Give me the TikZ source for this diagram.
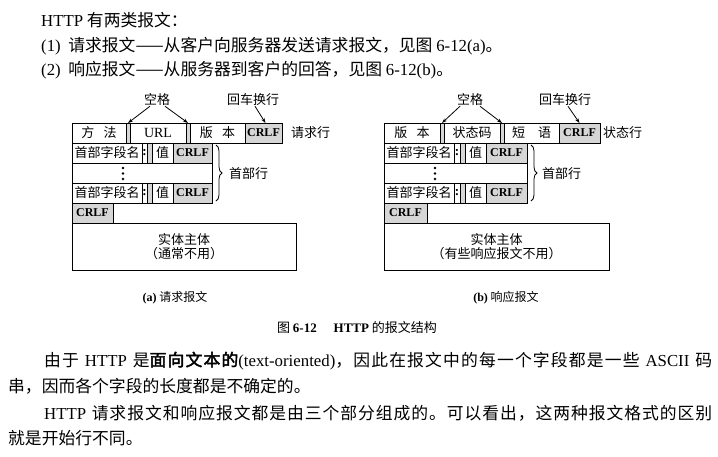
\documentclass[tikz,border=0pt]{standalone}
\usepackage{fontspec}
\setmainfont{Liberation Serif}
\newfontfamily\cjk{Noto Sans CJK SC}
\newfontfamily\cjkb{Noto Sans CJK SC}[FakeBold=2.5]
% glue between Chinese characters, so that full lines can be justified
\newXeTeXintercharclass\hanzicls
\newcount\hanzic
\hanzic="4E00
\loop
  \XeTeXcharclass\hanzic=\hanzicls
  \ifnum\hanzic<"9FFF \advance\hanzic by 1 \repeat
\XeTeXcharclass"FF0C=\hanzicls
\XeTeXcharclass"3002=\hanzicls
\XeTeXcharclass"FF1A=\hanzicls
\XeTeXinterchartoks\hanzicls\hanzicls={\hskip0pt plus 1pt minus 0.3pt\relax}
\XeTeXinterchartokenstate=1
\usetikzlibrary{arrows.meta,decorations.pathreplacing}
\newcommand\en[1]{{\rmfamily #1}}
\newcommand\crlf{{\rmfamily\bfseries\fontsize{12}{12}\selectfont CRLF}}

\begin{document}
\begin{tikzpicture}[x=1pt,y=-1pt,
  cell/.style={draw,line width=0.8pt,anchor=north west,inner sep=0pt,outer sep=0pt,
    minimum height=20pt,font=\cjk\fontsize{13}{13}\selectfont},
  gcell/.style={cell,fill=black!16},
  lbl/.style={inner sep=0pt,font=\cjk\fontsize{13}{15}\selectfont},
  arr/.style={line width=0.8pt,-{Stealth[length=5pt,width=3.5pt]}},
  hbrace/.style={decorate,decoration={brace,amplitude=6pt},line width=0.8pt},
  body/.style={anchor=base west,inner sep=0pt,font=\cjk\fontsize{16.8}{20}\selectfont}]
  \useasboundingbox (0,0) rectangle (718,456);
  \fill[white] (0,0) rectangle (718,456);

  % text above the figure
  \node[body] (intro) at (41,26) {\en{HTTP} 有两类报文：};
  \node[body] (req) at (41,51) {\en{(1)}\hspace{0.45em}请求报文——从客户向服务器发送请求报文，见图 \en{6-12(a)}。};
  \node[body] (resp) at (41,75) {\en{(2)}\hspace{0.45em}响应报文——从服务器到客户的回答，见图 \en{6-12(b)}。};

  % (a) request message
  \node[cell,minimum width=54pt] (a-method) at (72,123) {方\hspace{0.7em}法};
  \node[gcell,minimum width=4pt] (a-sp1) at (126,123) {};
  \node[cell,minimum width=56pt] (a-url) at (130,123) {\en{\fontsize{14}{14}\selectfont URL}};
  \node[gcell,minimum width=4pt] (a-sp2) at (186,123) {};
  \node[cell,minimum width=55pt] (a-ver) at (190,123) {版\hspace{0.7em}本};
  \node[gcell,minimum width=37pt] (a-crlf) at (245,123) {\crlf};
  \node[cell,minimum width=70pt] (a-name1) at (72,143) {首部字段名};
  \node[cell,minimum width=5pt] (a-colon1) at (142,143) {\en{\bfseries :}};
  \node[gcell,minimum width=5pt] (a-gap1) at (147,143) {};
  \node[cell,minimum width=21pt] (a-val1) at (152,143) {值};
  \node[gcell,minimum width=39pt] (a-hcrlf1) at (173,143) {\crlf};
  \node[cell,minimum width=140pt] (a-dots) at (72,163) {};
  \node[cell,minimum width=70pt] (a-name2) at (72,183) {首部字段名};
  \node[cell,minimum width=5pt] (a-colon2) at (142,183) {\en{\bfseries :}};
  \node[gcell,minimum width=5pt] (a-gap2) at (147,183) {};
  \node[cell,minimum width=21pt] (a-val2) at (152,183) {值};
  \node[gcell,minimum width=39pt] (a-hcrlf2) at (173,183) {\crlf};
  \node[gcell,minimum width=41pt] (a-end) at (72,203) {\crlf};
  \node[cell,minimum width=224pt,minimum height=47pt,align=center,
    font=\cjk\fontsize{13}{14.5}\selectfont] (a-body) at (72,223) {实体主体\\（通常不用）};
  \fill (123,168) circle[radius=1.3pt] (123,173.5) circle[radius=1.3pt] (123,179) circle[radius=1.3pt];
  \node[lbl] (a-space) at (157,100) {空格};
  \node[lbl] (a-cr) at (253,100) {回车换行};
  \draw[arr] ([xshift=-7pt]a-space.south) -- (a-sp1.north);
  \draw[arr] ([xshift=8pt]a-space.south) -- (a-sp2.north);
  \draw[arr] ([xshift=2pt]a-cr.south) -- ([xshift=2pt]a-crlf.north);
  \node[lbl,anchor=west] (a-line) at (291,133) {请求行};
  \draw[hbrace] ([xshift=4pt,yshift=-2pt]a-hcrlf1.north east) -- ([xshift=4pt,yshift=2pt]a-hcrlf2.south east);
  \node[lbl,anchor=west] (a-head) at (229,174) {首部行};
  \node[lbl,font=\cjk\fontsize{12}{12}\selectfont] (a-cap) at (175,298) {\en{\bfseries (a)} 请求报文};

  % (b) response message
  \node[cell,minimum width=56pt] (b-ver) at (384,123) {版\hspace{0.7em}本};
  \node[gcell,minimum width=4pt] (b-sp1) at (440,123) {};
  \node[cell,minimum width=56pt] (b-code) at (444,123) {状态码};
  \node[gcell,minimum width=4pt] (b-sp2) at (500,123) {};
  \node[cell,minimum width=55pt] (b-phrase) at (504,123) {短\hspace{1em}语};
  \node[gcell,minimum width=41pt] (b-crlf) at (559,123) {\crlf};
  \node[cell,minimum width=70pt] (b-name1) at (384,143) {首部字段名};
  \node[cell,minimum width=6pt] (b-colon1) at (454,143) {\en{\bfseries :}};
  \node[gcell,minimum width=5pt] (b-gap1) at (460,143) {};
  \node[cell,minimum width=21pt] (b-val1) at (465,143) {值};
  \node[gcell,minimum width=41pt] (b-hcrlf1) at (486,143) {\crlf};
  \node[cell,minimum width=143pt] (b-dots) at (384,163) {};
  \node[cell,minimum width=70pt] (b-name2) at (384,183) {首部字段名};
  \node[cell,minimum width=6pt] (b-colon2) at (454,183) {\en{\bfseries :}};
  \node[gcell,minimum width=5pt] (b-gap2) at (460,183) {};
  \node[cell,minimum width=21pt] (b-val2) at (465,183) {值};
  \node[gcell,minimum width=41pt] (b-hcrlf2) at (486,183) {\crlf};
  \node[gcell,minimum width=43pt] (b-end) at (384,203) {\crlf};
  \node[cell,minimum width=225pt,minimum height=47pt,align=center,
    font=\cjk\fontsize{13}{14.5}\selectfont] (b-body) at (384,223) {实体主体\\（有些响应报文不用）};
  \fill (435,168) circle[radius=1.3pt] (435,173.5) circle[radius=1.3pt] (435,179) circle[radius=1.3pt];
  \node[lbl] (b-space) at (470,100) {空格};
  \node[lbl] (b-cr) at (565,100) {回车换行};
  \draw[arr] ([xshift=-10pt]b-space.south) -- (b-sp1.north);
  \draw[arr] ([xshift=10pt]b-space.south) -- (b-sp2.north);
  \draw[arr] ([xshift=3pt]b-cr.south) -- (b-crlf.north);
  \node[lbl,anchor=west] (b-line) at (603,133) {状态行};
  \draw[hbrace] ([xshift=4pt,yshift=-2pt]b-hcrlf1.north east) -- ([xshift=4pt,yshift=2pt]b-hcrlf2.south east);
  \node[lbl,anchor=west] (b-head) at (542,174) {首部行};
  \node[lbl,font=\cjk\fontsize{12}{12}\selectfont] (b-cap) at (506,298) {\en{\bfseries (b)} 响应报文};

  % figure caption and text below
  \node[lbl] (figcap) at (357,328) {图 \en{\bfseries 6-12}\hspace{1.3em}\en{\bfseries HTTP} 的报文结构};
  \node[body] (para1a) at (44,366) {\hbox to 668pt{由于 \en{HTTP} 是{\cjkb 面向文本的}\en{(text-oriented)}，因此在报文中的每一个字段都是一些 \en{ASCII} 码}};
  \node[body] (para1b) at (8,392) {串，因而各个字段的长度都是不确定的。};
  \node[body] (para2a) at (44,419) {\hbox to 668pt{\en{HTTP} 请求报文和响应报文都是由三个部分组成的。可以看出，这两种报文格式的区别}};
  \node[body] (para2b) at (8,444) {就是开始行不同。};
\end{tikzpicture}
\end{document}
